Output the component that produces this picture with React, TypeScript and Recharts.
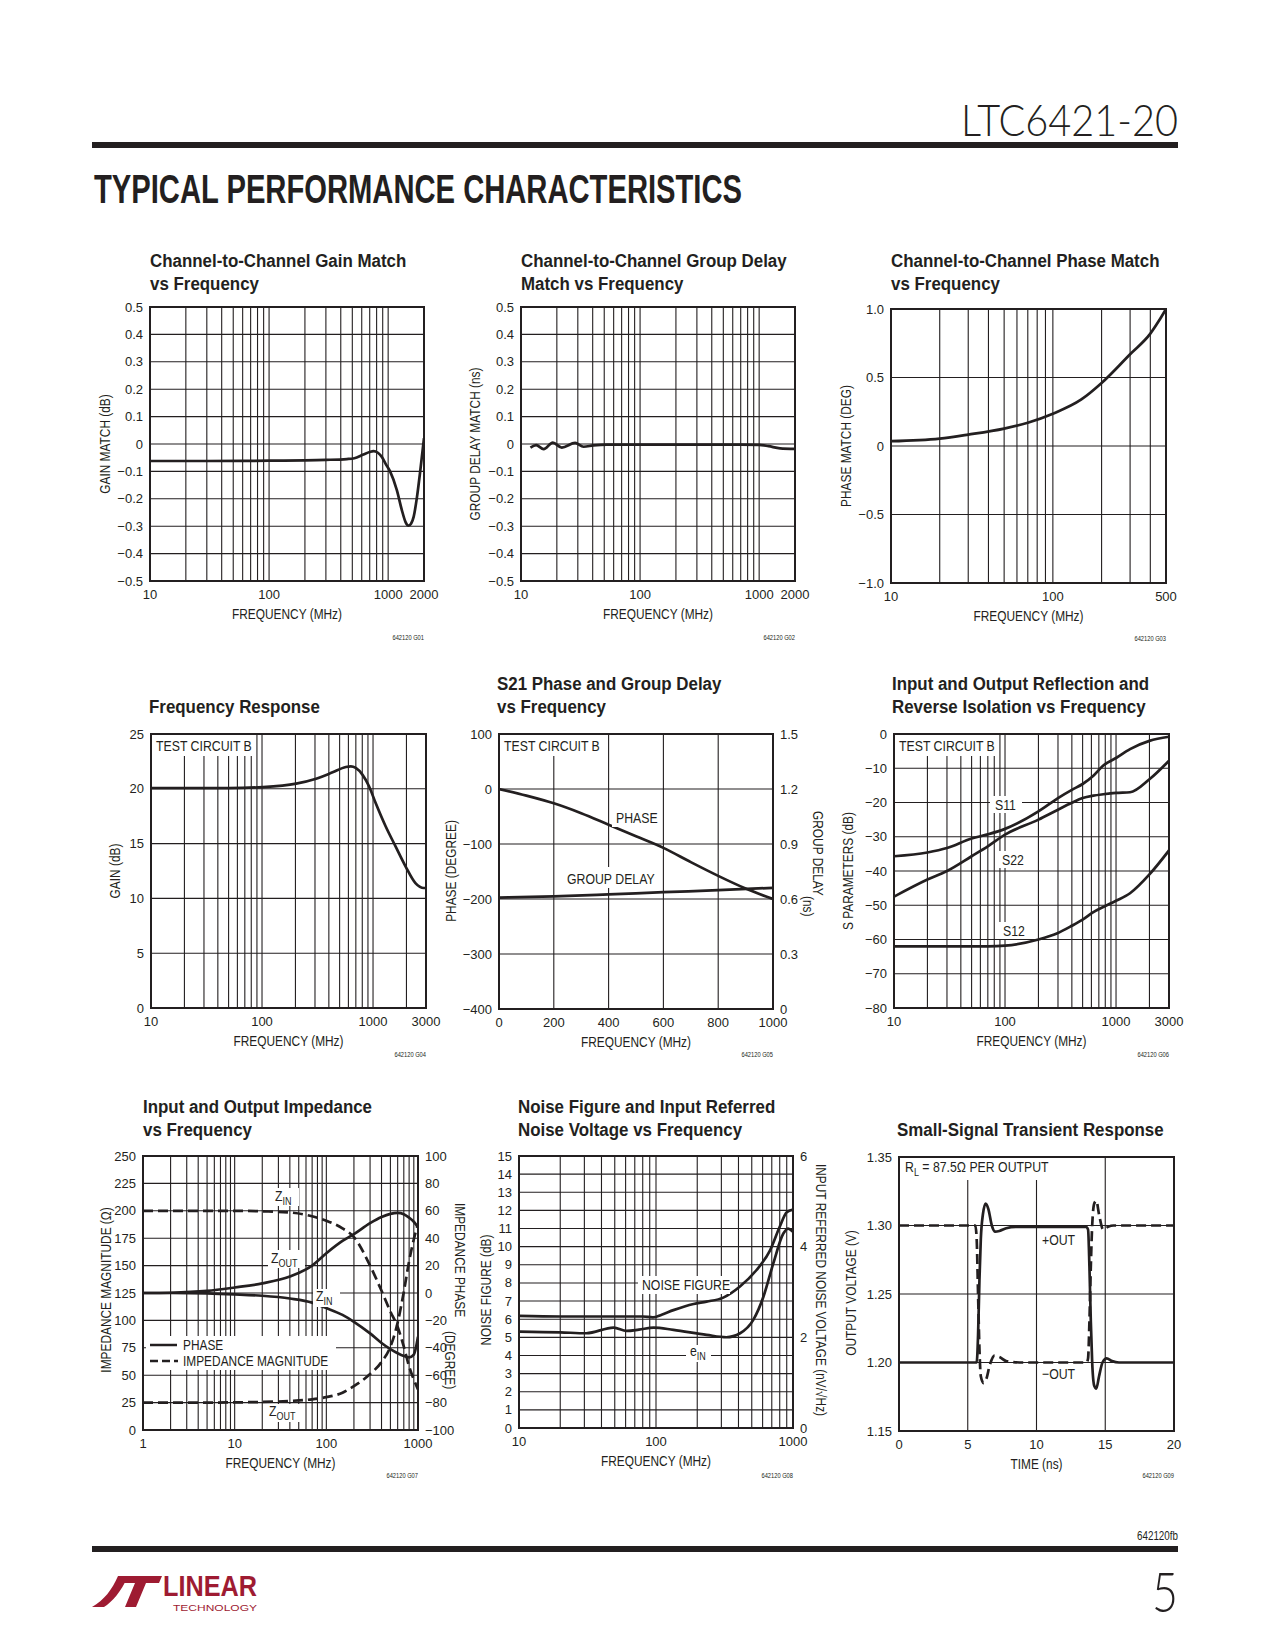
import React from "react";
import { LineChart, Line, XAxis, YAxis, CartesianGrid } from "recharts";

const INK = "#231f20";
const SANS = "'Liberation Sans', Arial, sans-serif";
const LIGHT = "Lato, 'Liberation Sans', sans-serif";
const LOGO_RED = "#9e1b32";

// ---------- grid / tick values ----------
const grid10to2000 = [10, 20, 30, 40, 50, 60, 70, 80, 90, 100, 200, 300, 400, 500, 600, 700, 800, 900, 1000, 2000];
const grid10to500 = [10, 20, 30, 40, 50, 60, 70, 80, 90, 100, 200, 300, 400, 500];
const grid10to3000 = [10, 20, 30, 40, 50, 60, 70, 80, 90, 100, 200, 300, 400, 500, 600, 700, 800, 900, 1000, 2000, 3000];
const grid1to1000 = [1, 2, 3, 4, 5, 6, 7, 8, 9, 10, 20, 30, 40, 50, 60, 70, 80, 90, 100, 200, 300, 400, 500, 600, 700, 800, 900, 1000];
const grid10to1000 = [10, 20, 30, 40, 50, 60, 70, 80, 90, 100, 200, 300, 400, 500, 600, 700, 800, 900, 1000];
const linFreqTicks = [0, 200, 400, 600, 800, 1000];
const timeTicks = [0, 5, 10, 15, 20];

const labels10to2000 = [10, 100, 1000, 2000];
const labels10to500 = [10, 100, 500];
const labels10to3000 = [10, 100, 1000, 3000];
const labels1to1000 = [1, 10, 100, 1000];
const labels10to1000 = [10, 100, 1000];

const matchTicks = [-0.5, -0.4, -0.3, -0.2, -0.1, 0, 0.1, 0.2, 0.3, 0.4, 0.5];
const phaseMatchTicks = [-1, -0.5, 0, 0.5, 1];
const gainTicks = [0, 5, 10, 15, 20, 25];
const s21PhaseTicks = [-400, -300, -200, -100, 0, 100];
const groupDelayTicks = [0, 0.3, 0.6, 0.9, 1.2, 1.5];
const sParamTicks = [-80, -70, -60, -50, -40, -30, -20, -10, 0];
const impMagTicks = [0, 25, 50, 75, 100, 125, 150, 175, 200, 225, 250];
const impPhaseTicks = [-100, -80, -60, -40, -20, 0, 20, 40, 60, 80, 100];
const noiseFigTicks = [0, 1, 2, 3, 4, 5, 6, 7, 8, 9, 10, 11, 12, 13, 14, 15];
const noiseVoltTicks = [0, 2, 4, 6];
const outVoltTicks = [1.15, 1.2, 1.25, 1.3, 1.35];

// ---------- G01 gain match ----------
const gainMatchFreq = [10, 30, 100, 300, 450, 520, 620, 700, 753, 820, 885, 960, 1040, 1183, 1303, 1400, 1483, 1560, 1639, 1748, 1864, 2000];
const gainMatchDb = [-0.062, -0.062, -0.061, -0.058, -0.055, -0.052, -0.038, -0.029, -0.026, -0.032, -0.047, -0.075, -0.101, -0.168, -0.241, -0.285, -0.298, -0.29, -0.265, -0.192, -0.095, 0.021];

// ---------- G02 group delay match ----------
const gdMatchFreq = [12, 13.4, 15.5, 18.5, 22, 28.5, 33.5, 40.6, 52.5, 100, 300, 700, 1000, 1200, 1500, 2000];
const gdMatchNs = [-0.013, -0.004, -0.019, 0.005, -0.013, 0.004, -0.01, -0.005, -0.002, -0.002, -0.002, -0.002, -0.003, -0.008, -0.016, -0.018];

// ---------- G03 phase match ----------
const phaseMatchFreq = [10, 20, 30, 50, 70, 100, 150, 200, 300, 400, 450, 500];
const phaseMatchDeg = [0.035, 0.054, 0.083, 0.127, 0.17, 0.236, 0.34, 0.46, 0.67, 0.82, 0.91, 1.0];

// ---------- G04 frequency response ----------
const freqRespFreq = [10, 50, 102, 203, 307, 432, 569, 631, 699, 802, 920, 1056, 1298, 1595, 1962, 2410, 2864, 3000];
const freqRespDb = [20.07, 20.07, 20.16, 20.47, 20.92, 21.5, 21.99, 22.05, 21.9, 21.29, 20.23, 18.7, 16.58, 14.75, 12.93, 11.4, 10.95, 10.95];

// ---------- G05 S21 phase / group delay ----------
const s21Freq = [0, 100, 200, 300, 400, 500, 600, 700, 800, 900, 1000];
const s21PhaseDeg = [0, -12, -26, -44, -65, -86, -107, -133, -158, -181, -200];
const groupDelayFreq = [0, 200, 400, 600, 800, 1000];
const groupDelayNs = [0.608, 0.614, 0.625, 0.637, 0.648, 0.661];

// ---------- G06 S parameters ----------
const sParamFreq = [10, 20, 30, 50, 70, 100, 200, 300, 400, 500, 625, 768, 1000, 1337, 2000, 3000];
const s11Db = [-35.7, -34.6, -33.3, -30.5, -29.3, -27.7, -22.6, -18.7, -16.3, -14.6, -12.2, -9.2, -7.0, -4.4, -2.0, -0.8];
const s22Db = [-47.5, -42.5, -40, -35.7, -32.8, -29.4, -25, -22.1, -20.1, -18.7, -18.0, -17.6, -17.2, -17.0, -13.2, -7.8];
const s12Db = [-62, -62, -62, -62, -62, -61.8, -60, -58.1, -56, -54.2, -52, -50.5, -48.7, -46.5, -41, -34];

// ---------- G07 impedance ----------
const impFreq = [1, 2, 5, 10, 20, 40, 70, 100, 150, 200, 300, 400, 500, 600, 700, 800, 900, 1000];
const zinMagOhm = [200, 200, 200, 200, 199.5, 198.5, 195, 191, 184, 176, 150, 127, 108, 94, 76, 58, 46, 37];
const zoutMagOhm = [25, 25, 25, 25.2, 25.6, 26.5, 28, 30, 34, 40, 51, 62, 76, 98, 126, 154, 174, 188];
const zinPhaseDeg = [0, 0, -0.3, -1, -2, -4, -7, -11, -16, -21, -29.5, -36.5, -41, -44, -46, -47, -45, -32];
const zoutPhaseDeg = [0, 0.2, 1.5, 4, 7, 12, 20, 29, 38, 43, 51, 55.5, 57.8, 58.5, 57.5, 55, 52, 48];

// ---------- G08 noise ----------
const noiseFreq = [10, 20, 50, 80, 95, 110, 134, 188, 234, 310, 410, 540, 680, 800, 900, 1000];
const noiseFigureDb = [6.18, 6.15, 6.15, 6.15, 6.1, 6.25, 6.5, 6.84, 6.97, 7.19, 7.8, 8.7, 9.8, 11.1, 11.9, 12.05];
const einFreq = [10, 20, 31, 49, 61, 75, 96, 134, 234, 326, 411, 513, 609, 718, 850, 922, 1000];
const einNv = [2.127, 2.11, 2.09, 2.216, 2.142, 2.17, 2.216, 2.164, 2.054, 2.002, 2.09, 2.384, 2.9, 3.63, 4.29, 4.4, 4.33];

// ---------- G09 transient ----------
const posOutTime = [0, 5.65, 5.75, 5.85, 5.95, 6.1, 6.3, 6.5, 6.75, 7.0, 7.3, 7.8, 8.5, 13.6, 13.75, 13.85, 13.95, 14.05, 14.2, 14.35, 14.55, 14.8, 15.1, 15.5, 16, 20];
const posOutV = [1.2, 1.2, 1.22, 1.26, 1.29, 1.308, 1.316, 1.312, 1.3, 1.2955, 1.296, 1.298, 1.299, 1.299, 1.297, 1.27, 1.23, 1.2, 1.183, 1.181, 1.19, 1.2, 1.203, 1.201, 1.2, 1.2];
const negOutTime = [0, 5.55, 5.65, 5.75, 5.85, 5.95, 6.15, 6.35, 6.6, 6.95, 7.3, 7.8, 9, 13.65, 13.75, 13.85, 13.95, 14.05, 14.2, 14.35, 14.55, 14.85, 15.2, 15.6, 16, 20];
const negOutV = [1.3, 1.3, 1.29, 1.25, 1.21, 1.19, 1.185, 1.188, 1.198, 1.205, 1.204, 1.201, 1.2, 1.2, 1.203, 1.23, 1.27, 1.3, 1.316, 1.318, 1.308, 1.297, 1.299, 1.3, 1.3, 1.3];

type Pt = { x: number; y: number };
const zip = (xs: number[], ys: number[]): Pt[] => xs.map((x, i) => ({ x, y: ys[i] }));

const minus = (s: string) => s.replace("-", "\u2212");
const fmt1 = (v: number) => (v === 0 ? "0" : minus(v.toFixed(1)));
const fmt2 = (v: number) => v.toFixed(2);
const fmtInt = (v: number) => minus(String(v));

type Box = { x: number; y: number; w: number; h: number };
type Axis = { domain: [number, number]; ticks: number[]; fmt: (v: number) => string };
type Series = { points: Pt[]; dashed?: boolean; right?: boolean };

const PAD_L = 70;
const PAD_R = 70;
const PAD_T = 14;
const PAD_B = 40;

function Panel(props: {
  box: Box;
  logX?: boolean;
  xDomain: [number, number];
  xTicks: number[];
  xLabels: number[];
  left: Axis;
  right?: Axis;
  series: Series[];
}) {
  const { box, logX, xDomain, xTicks, xLabels, left, right, series } = props;
  const bottomTick = (p: any) => (
    <text x={p.x} y={p.y} dy="0.71em" textAnchor="middle" fontFamily={SANS} fontSize={13} fill={INK}>
      {xLabels.includes(p.payload.value) ? String(p.payload.value) : ""}
    </text>
  );
  const sideTick = (fmt: (v: number) => string, anchor: string) => (p: any) => (
    <text x={p.x} y={p.y} dy="0.35em" textAnchor={anchor} fontFamily={SANS} fontSize={13} fill={INK}>
      {fmt(p.payload.value)}
    </text>
  );
  return (
    <div style={{ position: "absolute", left: box.x - PAD_L, top: box.y - PAD_T }}>
      <LineChart
        width={box.w + PAD_L + PAD_R}
        height={box.h + PAD_T + PAD_B}
        margin={{ top: PAD_T, right: right ? 0 : PAD_R, bottom: 0, left: 0 }}
      >
        <CartesianGrid yAxisId="L" stroke={INK} strokeWidth={1.1} />
        <XAxis
          dataKey="x"
          type="number"
          scale={logX ? "log" : "linear"}
          domain={xDomain}
          ticks={xTicks}
          interval={0}
          allowDataOverflow
          height={PAD_B}
          axisLine={false}
          tickLine={false}
          tickSize={0}
          tickMargin={9}
          tick={bottomTick}
        />
        <YAxis
          yAxisId="L"
          type="number"
          domain={left.domain}
          ticks={left.ticks}
          interval={0}
          allowDataOverflow
          width={PAD_L}
          axisLine={false}
          tickLine={false}
          tickSize={0}
          tickMargin={7}
          tick={sideTick(left.fmt, "end")}
        />
        {right && (
          <YAxis
            yAxisId="R"
            orientation="right"
            type="number"
            domain={right.domain}
            ticks={right.ticks}
            interval={0}
            allowDataOverflow
            width={PAD_R}
            axisLine={false}
            tickLine={false}
            tickSize={0}
            tickMargin={7}
            tick={sideTick(right.fmt, "start")}
          />
        )}
        {series.map((s, i) => (
          <Line
            key={i}
            data={s.points}
            dataKey="y"
            yAxisId={s.right ? "R" : "L"}
            type="monotone"
            stroke={INK}
            strokeWidth={2.7}
            strokeDasharray={s.dashed ? "10 5" : undefined}
            dot={false}
            activeDot={false}
            isAnimationActive={false}
          />
        ))}
      </LineChart>
    </div>
  );
}

// ---------- plot rectangles ----------
const B1: Box = { x: 150, y: 307, w: 274, h: 274 };
const B2: Box = { x: 521, y: 307, w: 274, h: 274 };
const B3: Box = { x: 891, y: 309, w: 275, h: 274 };
const B4: Box = { x: 151, y: 734, w: 275, h: 274 };
const B5: Box = { x: 499, y: 734, w: 274, h: 275 };
const B6: Box = { x: 894, y: 734, w: 275, h: 274 };
const B7: Box = { x: 143, y: 1156, w: 275, h: 274 };
const B8: Box = { x: 519, y: 1156, w: 274, h: 272 };
const B9: Box = { x: 899, y: 1157, w: 275, h: 274 };
const BOXES = [B1, B2, B3, B4, B5, B6, B7, B8, B9];

// text drawn condensed (sx squeezes it along its baseline)
function T(props: any) {
  const { x, y, size = 14.5, anchor = "start", bold = false, font = SANS, rot = 0, sx = 0.82, fill = INK, children, ...rest } = props;
  const tf = `translate(${x} ${y})` + (rot ? ` rotate(${rot})` : "") + (sx !== 1 ? ` scale(${sx} 1)` : "");
  return (
    <text
      x={0}
      y={0}
      fontSize={size}
      fontFamily={font}
      fontWeight={bold ? 700 : 400}
      textAnchor={anchor}
      fill={fill}
      transform={tf}
      {...rest}
    >
      {children}
    </text>
  );
}

function Title({ box, lines, base }: { box: Box; lines: string[]; base: number }) {
  const first = lines.length === 1 ? base + 23 : base;
  return (
    <>
      {lines.map((l, i) => (
        <T key={i} x={box.x} y={first + i * 23} size={19} sx={0.89} bold>
          {l}
        </T>
      ))}
    </>
  );
}

function YTitle({ cx, cy, text, rot = -90 }: { cx: number; cy: number; text: string; rot?: number }) {
  return (
    <T x={cx} y={cy} anchor="middle" dominantBaseline="central" rot={rot} size={14.5}>
      {text}
    </T>
  );
}

function Tag({ x, y, w, h }: { x: number; y: number; w: number; h: number }) {
  return <rect x={x} y={y} width={w} height={h} fill="#fff" />;
}

function Sub({ main, sub }: { main: string; sub: string }) {
  return (
    <>
      <tspan>{main}</tspan>
      <tspan fontSize={11} dy={4}>
        {sub}
      </tspan>
    </>
  );
}

function Overlay() {
  const xTitle = (b: Box, text: string) => (
    <T x={b.x + b.w / 2} y={b.y + b.h + 38} anchor="middle">
      {text}
    </T>
  );
  const code = (b: Box, text: string, dy: number) => (
    <T x={b.x + b.w} y={b.y + b.h + dy} anchor="end" size={7}>
      {text}
    </T>
  );
  return (
    <svg width={1275} height={1650} style={{ position: "absolute", left: 0, top: 0, pointerEvents: "none" }}>
      {/* header */}
      <T x={1178} y={136} anchor="end" size={44} font={LIGHT} sx={1} style={{ fontWeight: 300 }} textLength={217} lengthAdjust="spacingAndGlyphs">
        LTC6421-20
      </T>
      <rect x={92} y={142} width={1086} height={6} fill={INK} />
      <T x={94} y={203} size={41} sx={1} bold textLength={648} lengthAdjust="spacingAndGlyphs">
        TYPICAL PERFORMANCE CHARACTERISTICS
      </T>

      {/* label boxes */}
      <Tag x={152} y={735} w={101} h={21} />
      <Tag x={500} y={735} w={100} h={21} />
      <Tag x={895} y={735} w={101} h={21} />
      <Tag x={612} y={808} w={48} h={19} />
      <Tag x={563} y={867} w={92} h={21} />
      <Tag x={990} y={796} w={32} h={17} />
      <Tag x={997} y={851} w={30} h={17} />
      <Tag x={998} y={922} w={30} h={17} />
      <Tag x={272} y={1188} w={27} h={18} />
      <Tag x={268} y={1250} w={37} h={18} />
      <Tag x={313} y={1289} w={27} h={18} />
      <Tag x={266} y={1404} w={35} h={18} />
      <Tag x={146} y={1336} w={190} h={34} />
      <Tag x={638} y={1276} w={92} h={18} />
      <Tag x={686} y={1345} w={25} h={17} />
      <Tag x={900} y={1158} w={154} h={22} />
      <Tag x={1039} y={1231} w={40} h={17} />
      <Tag x={1039} y={1365} w={40} h={18} />

      {/* plot frames */}
      {BOXES.map((b, i) => (
        <rect key={i} x={b.x} y={b.y} width={b.w} height={b.h} fill="none" stroke={INK} strokeWidth={2} />
      ))}

      {/* titles */}
      <Title box={B1} base={267} lines={["Channel-to-Channel Gain Match", "vs Frequency"]} />
      <Title box={B2} base={267} lines={["Channel-to-Channel Group Delay", "Match vs Frequency"]} />
      <Title box={B3} base={267} lines={["Channel-to-Channel Phase Match", "vs Frequency"]} />
      <Title box={{ ...B4, x: 149 }} base={690} lines={["Frequency Response"]} />
      <Title box={{ ...B5, x: 497 }} base={690} lines={["S21 Phase and Group Delay", "vs Frequency"]} />
      <Title box={{ ...B6, x: 892 }} base={690} lines={["Input and Output Reflection and", "Reverse Isolation vs Frequency"]} />
      <Title box={{ ...B7, x: 143 }} base={1113} lines={["Input and Output Impedance", "vs Frequency"]} />
      <Title box={{ ...B8, x: 518 }} base={1113} lines={["Noise Figure and Input Referred", "Noise Voltage vs Frequency"]} />
      <Title box={{ ...B9, x: 897 }} base={1113} lines={["Small-Signal Transient Response"]} />

      {/* axis titles */}
      <YTitle cx={105} cy={444} text="GAIN MATCH (dB)" />
      <YTitle cx={475} cy={444} text="GROUP DELAY MATCH (ns)" />
      <YTitle cx={846} cy={446} text="PHASE MATCH (DEG)" />
      <YTitle cx={115} cy={871} text="GAIN (dB)" />
      <YTitle cx={451} cy={871} text="PHASE (DEGREE)" />
      <T x={818} y={811} size={14.5} dominantBaseline="central" rot={90}>
        GROUP DELAY
      </T>
      <T x={808} y={896} size={14.5} dominantBaseline="central" rot={90}>
        (ns)
      </T>
      <YTitle cx={848} cy={871} text="S PARAMETERS (dB)" />
      <YTitle cx={106} cy={1290} text="IMPEDANCE MAGNITUDE (Ω)" />
      <T x={460} y={1203} size={14.5} dominantBaseline="central" rot={90}>
        IMPEDANCE PHASE
      </T>
      <T x={450} y={1331} size={14.5} dominantBaseline="central" rot={90}>
        (DEGREE)
      </T>
      <YTitle cx={486} cy={1290} text="NOISE FIGURE (dB)" />
      <YTitle cx={821} cy={1290} text="INPUT REFERRED NOISE VOLTAGE (nV/√Hz)" rot={90} />
      <YTitle cx={851} cy={1293} text="OUTPUT VOLTAGE (V)" />

      {xTitle(B1, "FREQUENCY (MHz)")}
      {xTitle(B2, "FREQUENCY (MHz)")}
      {xTitle(B3, "FREQUENCY (MHz)")}
      {xTitle(B4, "FREQUENCY (MHz)")}
      {xTitle(B5, "FREQUENCY (MHz)")}
      {xTitle(B6, "FREQUENCY (MHz)")}
      {xTitle(B7, "FREQUENCY (MHz)")}
      {xTitle(B8, "FREQUENCY (MHz)")}
      {xTitle(B9, "TIME (ns)")}

      {code(B1, "642120 G01", 59)}
      {code(B2, "642120 G02", 59)}
      {code(B3, "642120 G03", 58)}
      {code(B4, "642120 G04", 49)}
      {code(B5, "642120 G05", 48)}
      {code(B6, "642120 G06", 49)}
      {code(B7, "642120 G07", 48)}
      {code(B8, "642120 G08", 50)}
      {code(B9, "642120 G09", 47)}

      {/* in-plot labels */}
      <T x={156} y={751} size={15}>TEST CIRCUIT B</T>
      <T x={504} y={751} size={15}>TEST CIRCUIT B</T>
      <T x={899} y={751} size={15}>TEST CIRCUIT B</T>
      <T x={616} y={823} size={15}>PHASE</T>
      <T x={567} y={884} size={15}>GROUP DELAY</T>
      <T x={995} y={810} size={15}>S11</T>
      <T x={1002} y={865} size={15}>S22</T>
      <T x={1003} y={936} size={15}>S12</T>

      <T x={275} y={1201} size={15}><Sub main="Z" sub="IN" /></T>
      <T x={271} y={1263} size={15}><Sub main="Z" sub="OUT" /></T>
      <T x={316} y={1301} size={15}><Sub main="Z" sub="IN" /></T>
      <T x={269} y={1416} size={15}><Sub main="Z" sub="OUT" /></T>
      <line x1={150} y1={1345} x2={177} y2={1345} stroke={INK} strokeWidth={2.5} />
      <line x1={150} y1={1361} x2={178} y2={1361} stroke={INK} strokeWidth={2.5} strokeDasharray="8 4" />
      <T x={183} y={1350} size={14.5}>PHASE</T>
      <T x={183} y={1366} size={14.5}>IMPEDANCE MAGNITUDE</T>

      <T x={642} y={1290} size={15}>NOISE FIGURE</T>
      <T x={690} y={1356} size={15}><Sub main="e" sub="IN" /></T>

      <T x={905} y={1172} size={15}>
        <tspan>R</tspan>
        <tspan fontSize={11} dy={4}>L</tspan>
        <tspan dy={-4}> = 87.5Ω PER OUTPUT</tspan>
      </T>
      <T x={1042} y={1245} size={15}>+OUT</T>
      <T x={1042} y={1379} size={15}>{"\u2212OUT"}</T>

      {/* footer */}
      <T x={1178} y={1540} anchor="end" size={12}>642120fb</T>
      <rect x={92} y={1546} width={1086} height={6} fill={INK} />
      <T x={1178} y={1612} anchor="end" size={56} font={LIGHT} sx={0.8} style={{ fontWeight: 300 }}>5</T>
      <path d="M92 1607 C104 1600 112 1590 118 1576 L128 1576 C121 1592 112 1602 104 1607 Z" fill={LOGO_RED} />
      <path d="M120 1576 L162 1576 L159 1583 L146 1583 L136 1607 L125 1607 L135 1583 L117 1583 Z" fill={LOGO_RED} />
      <T x={163} y={1596} size={30} sx={1} bold fill={LOGO_RED} textLength={94} lengthAdjust="spacingAndGlyphs">
        LINEAR
      </T>
      <T x={173} y={1611} size={8.5} sx={1} fill={LOGO_RED} textLength={84} lengthAdjust="spacingAndGlyphs">
        TECHNOLOGY
      </T>
    </svg>
  );
}

export default function App() {
  return (
    <div
      style={{
        position: "absolute",
        left: 0,
        top: 0,
        width: 1275,
        height: 1650,
        background: "#fff",
        overflow: "hidden",
      }}
    >
      <Panel
        box={B1}
        logX
        xDomain={[10, 2000]}
        xTicks={grid10to2000}
        xLabels={labels10to2000}
        left={{ domain: [-0.5, 0.5], ticks: matchTicks, fmt: fmt1 }}
        series={[{ points: zip(gainMatchFreq, gainMatchDb) }]}
      />
      <Panel
        box={B2}
        logX
        xDomain={[10, 2000]}
        xTicks={grid10to2000}
        xLabels={labels10to2000}
        left={{ domain: [-0.5, 0.5], ticks: matchTicks, fmt: fmt1 }}
        series={[{ points: zip(gdMatchFreq, gdMatchNs) }]}
      />
      <Panel
        box={B3}
        logX
        xDomain={[10, 500]}
        xTicks={grid10to500}
        xLabels={labels10to500}
        left={{ domain: [-1, 1], ticks: phaseMatchTicks, fmt: fmt1 }}
        series={[{ points: zip(phaseMatchFreq, phaseMatchDeg) }]}
      />
      <Panel
        box={B4}
        logX
        xDomain={[10, 3000]}
        xTicks={grid10to3000}
        xLabels={labels10to3000}
        left={{ domain: [0, 25], ticks: gainTicks, fmt: fmtInt }}
        series={[{ points: zip(freqRespFreq, freqRespDb) }]}
      />
      <Panel
        box={B5}
        xDomain={[0, 1000]}
        xTicks={linFreqTicks}
        xLabels={linFreqTicks}
        left={{ domain: [-400, 100], ticks: s21PhaseTicks, fmt: fmtInt }}
        right={{ domain: [0, 1.5], ticks: groupDelayTicks, fmt: fmt1 }}
        series={[
          { points: zip(s21Freq, s21PhaseDeg) },
          { points: zip(groupDelayFreq, groupDelayNs), right: true },
        ]}
      />
      <Panel
        box={B6}
        logX
        xDomain={[10, 3000]}
        xTicks={grid10to3000}
        xLabels={labels10to3000}
        left={{ domain: [-80, 0], ticks: sParamTicks, fmt: fmtInt }}
        series={[
          { points: zip(sParamFreq, s11Db) },
          { points: zip(sParamFreq, s22Db) },
          { points: zip(sParamFreq, s12Db) },
        ]}
      />
      <Panel
        box={B7}
        logX
        xDomain={[1, 1000]}
        xTicks={grid1to1000}
        xLabels={labels1to1000}
        left={{ domain: [0, 250], ticks: impMagTicks, fmt: fmtInt }}
        right={{ domain: [-100, 100], ticks: impPhaseTicks, fmt: fmtInt }}
        series={[
          { points: zip(impFreq, zinMagOhm), dashed: true },
          { points: zip(impFreq, zoutMagOhm), dashed: true },
          { points: zip(impFreq, zinPhaseDeg), right: true },
          { points: zip(impFreq, zoutPhaseDeg), right: true },
        ]}
      />
      <Panel
        box={B8}
        logX
        xDomain={[10, 1000]}
        xTicks={grid10to1000}
        xLabels={labels10to1000}
        left={{ domain: [0, 15], ticks: noiseFigTicks, fmt: fmtInt }}
        right={{ domain: [0, 6], ticks: noiseVoltTicks, fmt: fmtInt }}
        series={[
          { points: zip(noiseFreq, noiseFigureDb) },
          { points: zip(einFreq, einNv), right: true },
        ]}
      />
      <Panel
        box={B9}
        xDomain={[0, 20]}
        xTicks={timeTicks}
        xLabels={timeTicks}
        left={{ domain: [1.15, 1.35], ticks: outVoltTicks, fmt: fmt2 }}
        series={[
          { points: zip(posOutTime, posOutV) },
          { points: zip(negOutTime, negOutV), dashed: true },
        ]}
      />
      <Overlay />
    </div>
  );
}
